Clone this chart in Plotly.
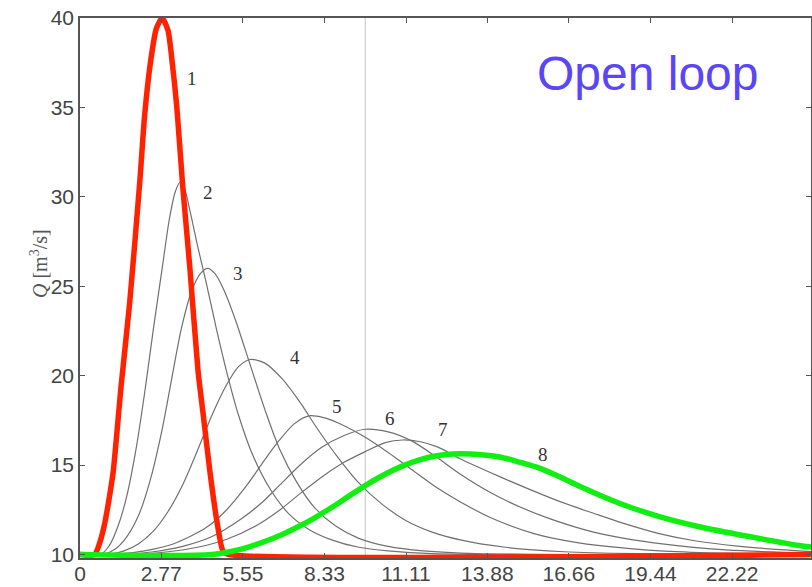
import plotly.graph_objects as go

# ---------------- data ----------------
x_tick_vals = [0, 2.77, 5.55, 8.33, 11.11, 13.88, 16.66, 19.44, 22.22]
x_tick_text = ["0", "2.77", "5.55", "8.33", "11.11", "13.88", "16.66", "19.44", "22.22"]
y_tick_vals = [10, 15, 20, 25, 30, 35, 40]

ref_line_x = 9.72

c1_x = [0, 0.5, 0.7, 0.85, 1.0, 1.13, 1.4, 1.7, 2.04, 2.2, 2.4, 2.6, 2.8, 3.0, 3.15, 3.3, 3.5, 3.75, 4.02, 4.2, 4.43, 4.67, 4.87, 5.05, 25]
c1_y = [10, 10, 10.8, 11.8, 13.2, 14.6, 19.4, 24.2, 30.9, 34.5, 37.5, 39.4, 40, 39.3, 37.4, 35.0, 30.6, 25.9, 20.3, 17.8, 14.6, 11.8, 10.2, 10, 10]

c2_x = [0, 0.7, 1.0, 1.3, 1.6, 1.9, 2.2, 2.5, 2.8, 3.05, 3.25, 3.4, 3.55, 3.75, 4.0, 4.3, 4.65, 5.0, 5.4, 5.9, 6.5, 7.1, 7.8, 8.6, 9.5, 10.5, 12.0, 25]
c2_y = [10, 10, 10.5, 11.6, 13.3, 15.8, 19.0, 22.6, 26.0, 28.8, 30.3, 30.8, 30.5, 29.2, 27.3, 25.2, 22.6, 20.2, 17.8, 15.5, 13.6, 12.3, 11.4, 10.8, 10.4, 10.2, 10.05, 10]

c3_x = [0, 0.8, 1.2, 1.6, 2.0, 2.4, 2.8, 3.1, 3.45, 3.8, 4.1, 4.35, 4.6, 4.9, 5.3, 5.8, 6.3, 6.8, 7.4, 8.0, 8.7, 9.5, 10.5, 11.7, 13.5, 25]
c3_y = [10, 10, 10.3, 11.0, 12.2, 14.2, 17.0, 19.6, 22.6, 24.7, 25.7, 26.0, 25.7, 24.8, 23.1, 20.6, 18.1, 15.9, 14.0, 12.6, 11.6, 10.9, 10.45, 10.2, 10.05, 10]

c4_x = [0, 1.0, 1.5, 2.0, 2.5, 3.0, 3.5, 4.0, 4.5, 5.0, 5.4, 5.8, 6.3, 6.9, 7.5, 8.1, 8.8, 9.5, 10.3, 11.1, 12.0, 13.0, 14.5, 16.5, 19.0, 25]
c4_y = [10, 10, 10.2, 10.6, 11.3, 12.4, 13.9, 15.8, 17.8, 19.5, 20.5, 20.9, 20.7, 19.8, 18.5, 17.0, 15.4, 14.0, 12.8, 11.9, 11.25, 10.8, 10.4, 10.15, 10.05, 10]

c5_x = [0, 1.2, 2.2, 3.2, 4.3, 5.0, 5.7, 6.3, 6.8, 7.3, 7.8, 8.3, 8.8, 9.72, 10.5, 11.3, 12.1, 12.95, 14.0, 15.5, 17.0, 19.77, 22.0, 25]
c5_y = [10, 10, 10.2, 10.6, 11.5, 12.5, 13.9, 15.3, 16.4, 17.3, 17.75, 17.65, 17.35, 16.55, 15.7, 14.75, 13.8, 12.95, 12.05, 11.15, 10.65, 10.2, 10.07, 10]

c6_x = [0, 1.4, 2.5, 3.5, 4.5, 5.5, 6.2, 6.82, 7.5, 8.2, 9.0, 9.72, 10.5, 11.3, 12.1, 12.95, 14.0, 15.0, 16.0, 17.5, 19.77, 22.0, 25]
c6_y = [10, 10, 10.15, 10.45, 11.0, 12.0, 12.9, 13.9, 15.0, 15.95, 16.65, 17.0, 16.85, 16.35, 15.5, 14.5, 13.45, 12.65, 12.0, 11.25, 10.6, 10.25, 10.08]

c7_x = [0, 1.6, 3.0, 4.0, 5.0, 6.0, 6.82, 7.5, 8.3, 9.0, 9.72, 10.4, 11.0, 11.6, 12.2, 12.95, 14.3, 15.3, 16.36, 17.5, 18.5, 19.77, 21.0, 22.5, 24.0, 25]
c7_y = [10, 10, 10.15, 10.4, 10.85, 11.6, 12.5, 13.4, 14.4, 15.15, 15.75, 16.25, 16.4, 16.3, 16.0, 15.35, 14.35, 13.65, 12.95, 12.3, 11.75, 11.15, 10.75, 10.45, 10.25, 10.15]

c8_x = [0, 4.5, 5.5, 6.5, 7.0, 7.5, 8.0, 8.6, 9.2, 9.72, 10.3, 11.0, 11.6, 12.1, 12.7, 13.3, 14.3, 15.0, 15.7, 16.4, 17.04, 18.4, 19.77, 21.1, 22.8, 24.5, 25]
c8_y = [10, 10, 10.3, 10.85, 11.2, 11.6, 12.05, 12.65, 13.3, 13.85, 14.4, 14.95, 15.3, 15.5, 15.62, 15.62, 15.45, 15.15, 14.8, 14.3, 13.8, 12.85, 12.1, 11.55, 11.0, 10.5, 10.4]

curve_names = ["1", "2", "3", "4", "5", "6", "7", "8"]
label_x = [3.82, 4.36, 5.39, 7.33, 8.76, 10.57, 12.37, 15.78]
label_y = [36.6, 30.25, 25.7, 21.0, 18.3, 17.6, 17.0, 15.6]

# ---------------- figure ----------------
fig = go.Figure()

gray_curves = [(c2_x, c2_y), (c3_x, c3_y), (c4_x, c4_y), (c5_x, c5_y), (c6_x, c6_y), (c7_x, c7_y)]
for i, (gx, gy) in enumerate(gray_curves):
    fig.add_trace(go.Scatter(x=gx, y=gy, mode="lines",
                             line=dict(color="#707070", width=1.2, shape="spline", smoothing=0.8),
                             name=curve_names[i + 1], hoverinfo="skip"))

fig.add_trace(go.Scatter(x=c1_x, y=c1_y, mode="lines",
                         line=dict(color="#ff2200", width=5.5, shape="spline", smoothing=0.6),
                         name="1", hoverinfo="skip"))
fig.add_trace(go.Scatter(x=c8_x, y=c8_y, mode="lines",
                         line=dict(color="#11ee11", width=5.5, shape="spline", smoothing=0.8),
                         name="8", hoverinfo="skip"))

fig.add_vline(x=ref_line_x, line=dict(color="#c4c4c4", width=1), layer="below")

for name, lx, ly in zip(curve_names, label_x, label_y):
    fig.add_annotation(x=lx, y=ly, text=name, showarrow=False, xref="x", yref="y",
                       font=dict(family="Liberation Serif", size=19, color="#333333"))

fig.add_annotation(x=0.777, y=0.898, xref="paper", yref="paper", text="Open loop", showarrow=False,
                   xanchor="center", yanchor="middle",
                   font=dict(family="Liberation Sans", size=48, color="#5a46f5"))

fig.add_annotation(x=-0.057, y=0.545, xref="paper", yref="paper", textangle=-90, showarrow=False,
                   xanchor="center", yanchor="middle",
                   text="<i>Q</i> [m<sup>3</sup>/s]",
                   font=dict(family="Liberation Serif", size=20, color="#555555"))

axis_common = dict(showgrid=False, zeroline=False, showline=True, linecolor="#555555", linewidth=1.5,
                   mirror="ticks", ticks="inside", ticklen=5, tickcolor="#555555",
                   tickfont=dict(family="Liberation Sans", size=21, color="#444444"))

fig.update_layout(
    width=812, height=587,
    margin=dict(l=80, r=1, t=18, b=29, autoexpand=False),
    paper_bgcolor="white", plot_bgcolor="white",
    showlegend=False,
    xaxis=dict(range=[0, 24.91], tickvals=x_tick_vals, ticktext=x_tick_text,
               ticklabelstandoff=-4, **axis_common),
    yaxis=dict(range=[9.8, 40], tickvals=y_tick_vals, **axis_common),
)

fig.write_html("out.html")
